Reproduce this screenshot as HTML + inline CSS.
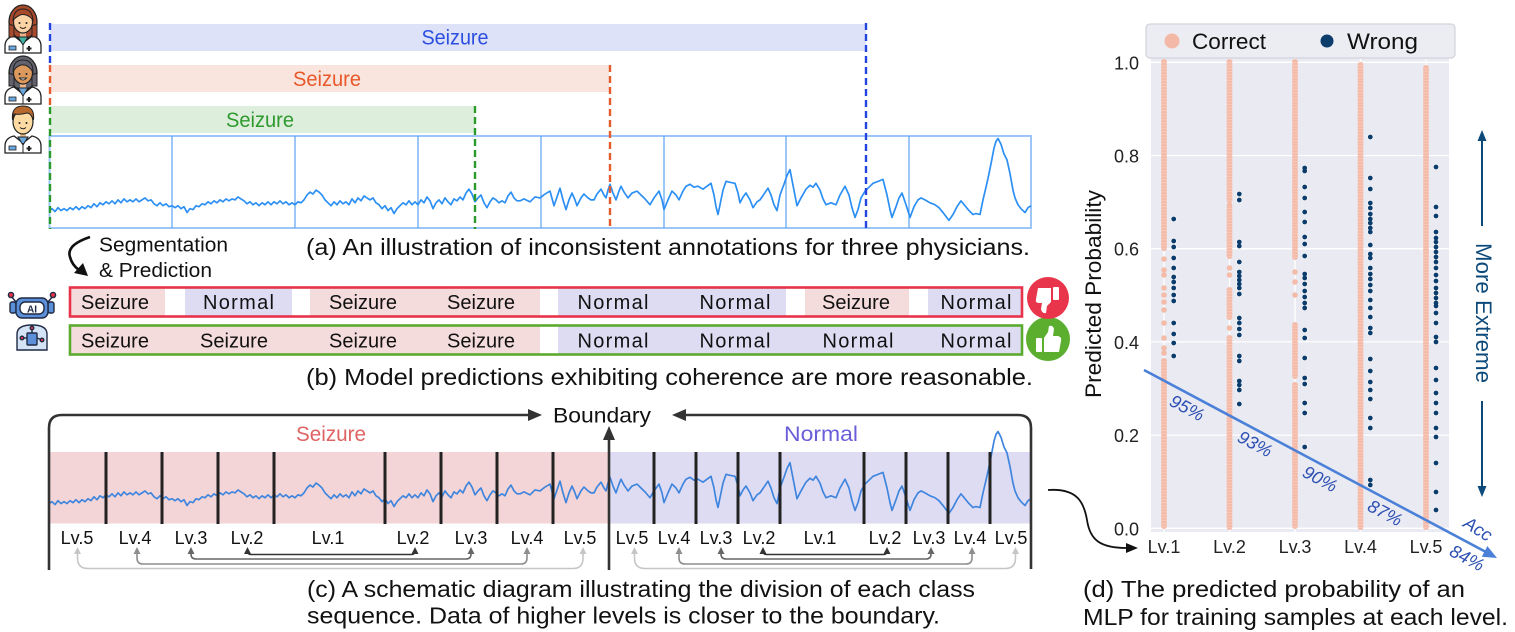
<!DOCTYPE html>
<html><head><meta charset="utf-8">
<style>
html,body{margin:0;padding:0;background:#fff;}
svg{display:block;}
text{font-family:"Liberation Sans",sans-serif;}
</style></head>
<body>
<svg width="1515" height="632" viewBox="0 0 1515 632" xmlns="http://www.w3.org/2000/svg">
<defs>
<path id="sig" fill="none" d="M49 216 52 214 55 217 58 213 61 216 64 214 67 216 70 213 73 215 76 212 79 215 82 212 85 214 88 211 91 213 94 209 97 212 100 208 103 210 106 207 109 209 112 206 115 209 118 205 121 208 124 204 127 207 130 205 133 207 136 204 139 207 142 205 145 203 148 206 151 205 154 209 157 211 160 208 163 211 166 209 169 212 172 211 175 213 178 211 181 214 184 212 187 218 190 214 193 215 196 211 199 212 202 209 205 210 208 207 211 209 214 206 217 208 220 205 223 207 226 204 229 206 232 204 235 205 238 202 241 204 244 206 247 209 250 207 253 210 256 208 259 211 262 208 265 210 268 207 271 210 274 207 277 209 280 206 283 209 286 207 289 210 292 208 295 210 298 207 301 208 304 205 307 200 310 197 313 199 316 195 319 197 322 200 325 205 328 208 331 211 334 207 337 210 340 206 343 209 346 207 349 210 352 204 355 208 358 203 361 206 364 201 367 203 370 205 373 203 376 208 379 210 382 214 385 211 388 216 391 213 394 219 397 214 400 211 403 208 406 210 409 206 412 210 415 207 418 210 421 205 424 208 427 202 430 206 433 214 436 208 439 205 442 209 445 203 448 207 451 210 454 204 457 206 460 202 463 205 466 198 469 194 472 199 475 207 478 203 481 200 484 208 487 213 490 207 493 203 496 205 499 208 502 206 505 208 508 201 511 197 514 203 517 206 520 206 524 204 530 207 535 202 540 203 545 199 550 196 554 211 557 202 560 193 563 205 566 215 569 205 572 198 575 205 577 211 581 203 584 199 588 203 591 205 594 205 597 199 601 194 604 200 606 203 608 195 610 189 613 198 616 205 619 196 621 191 624 197 628 203 632 198 637 196 641 200 645 204 650 210 654 203 659 196 662 205 664 215 668 205 672 196 676 200 679 205 683 196 686 191 690 189 694 192 698 191 703 194 707 191 711 188 714 200 716 212 718 220 720 210 723 195 726 186 730 187 735 188 738 198 740 208 743 202 746 198 750 205 753 213 757 207 760 205 764 199 768 193 771 200 774 210 777 216 780 200 784 189 787 180 790 174 793 190 797 211 801 203 806 194 810 190 813 192 816 188 820 195 823 204 826 210 831 208 836 210 840 200 845 191 849 200 852 213 855 223 858 215 861 203 865 196 869 192 873 188 878 186 883 184 887 200 890 215 892 223 896 212 899 203 902 198 906 210 910 223 914 212 918 205 921 203 925 205 930 208 935 210 939 213 943 218 946 222 949 226 953 220 957 212 961 206 965 211 969 216 973 220 976 219 980 220 983 205 986 192 988 183 991 168 994 152 996 145 998 142 1001 148 1004 158 1007 164 1010 178 1013 195 1015 203 1018 210 1021 214 1025 218 1028 213 1031 211"/>
<g id="doc">
  <ellipse cx="23" cy="22" rx="14" ry="17" fill="currentColor" stroke="#222" stroke-width="1.3"/>
  <rect x="20" y="30" width="6" height="8" fill="#e9b48a"/>
  <path d="M5,53 V46 Q5,38 14,36 L23,43 L32,36 Q41,38 41,46 V53 Z" fill="#fff" stroke="#222" stroke-width="1.3"/>
  <path d="M23,43 L14,36 M23,43 L32,36 M23,43 V53" stroke="#222" stroke-width="1" fill="none"/>
  <rect x="28" y="46" width="2" height="5" fill="#222"/><rect x="26.5" y="47.5" width="5" height="2" fill="#222"/>
  <rect x="9" y="46" width="7" height="4" fill="#6aa8e0" stroke="#222" stroke-width="0.8"/>
</g>
<path id="wrd" fill="none"
 d="M1173.7 219h0M1173.7 241h0M1173.7 247h0M1173.7 258h0M1173.7 268h0M1173.7 277h0M1173.7 282h0M1173.7 288h0M1173.7 295h0M1173.7 301h0M1173.7 323h0M1173.7 334h0M1173.7 343h0M1173.7 356h0
 M1239.3 194h0M1239.3 200h0M1239.3 242h0M1239.3 246h0M1239.3 262h0M1239.3 272h0M1239.3 276h0M1239.3 280h0M1239.3 284h0M1239.3 288h0M1239.3 294h0M1239.3 318h0M1239.3 323h0M1239.3 329h0M1239.3 335h0M1239.3 356h0M1239.3 361h0M1239.3 381h0M1239.3 385h0M1239.3 390h0M1239.3 404h0
 M1304.7 168h0M1304.7 171h0M1304.7 187h0M1304.7 198h0M1304.7 212h0M1304.7 222h0M1304.7 237h0M1304.7 244h0M1304.7 256h0M1304.7 274h0M1304.7 278h0M1304.7 284h0M1304.7 291h0M1304.7 297h0M1304.7 303h0M1304.7 308h0M1304.7 330h0M1304.7 338h0M1304.7 358h0M1304.7 378h0M1304.7 384h0M1304.7 403h0M1304.7 413h0M1304.7 447h0
 M1370.3 137h0M1370.3 178h0M1370.3 189h0M1370.3 203h0M1370.3 208h0M1370.3 214h0M1370.3 219h0M1370.3 223h0M1370.3 228h0M1370.3 232h0M1370.3 245h0M1370.3 254h0M1370.3 258h0M1370.3 268h0M1370.3 274h0M1370.3 279h0M1370.3 285h0M1370.3 291h0M1370.3 300h0M1370.3 308h0M1370.3 317h0M1370.3 328h0M1370.3 333h0M1370.3 359h0M1370.3 371h0M1370.3 382h0M1370.3 390h0M1370.3 399h0M1370.3 418h0M1370.3 428h0M1370.3 480h0M1370.3 485h0
 M1436 167h0M1436 207h0M1436 216h0M1436 232h0M1436 238h0M1436 242h0M1436 247h0M1436 252h0M1436 257h0M1436 262h0M1436 268h0M1436 275h0M1436 281h0M1436 288h0M1436 293h0M1436 298h0M1436 303h0M1436 306h0M1436 313h0M1436 323h0M1436 337h0M1436 342h0M1436 368h0M1436 380h0M1436 393h0M1436 403h0M1436 413h0M1436 428h0M1436 437h0M1436 463h0M1436 492h0M1436 510h0"/>
</defs>

<!-- ============ Panel (a) ============ -->
<g color="#a9492c">
  <use href="#doc"/>
  <path d="M18,37 L23,45 L28,37 Z" fill="#40b3a2" stroke="#222" stroke-width="1"/>
  <path d="M9,24 V37 H14 V26 Z M37,24 V37 H32 V26 Z" fill="#a9492c" stroke="#222" stroke-width="1"/>
  <ellipse cx="23" cy="22" rx="9.5" ry="11" fill="#fdd2a4" stroke="#222" stroke-width="1.2"/>
  <path d="M13,20 Q14,9 23,9 Q32,9 33,20 Q27,13 20,15 Q16,17 13,20Z" fill="#a9492c" stroke="#222" stroke-width="1"/>
  <circle cx="19.5" cy="23" r="1" fill="#222"/><circle cx="26.5" cy="23" r="1" fill="#222"/>
  <path d="M20,27 Q23,30 26,27" stroke="#222" stroke-width="1" fill="none"/>
</g>
<g transform="translate(0,51)" color="#62626f">
  <use href="#doc"/>
  <path d="M18,37 L23,45 L28,37 Z" fill="#6aa8e0" stroke="#222" stroke-width="1"/>
  <path d="M9,22 V35 H14 V24 Z M37,22 V35 H32 V24 Z" fill="#62626f" stroke="#222" stroke-width="1"/>
  <ellipse cx="23" cy="22" rx="9.5" ry="11" fill="#dc995d" stroke="#222" stroke-width="1.2"/>
  <path d="M13,21 Q13,9 23,9 Q33,9 33,21 Q28,13 21,14 Q15,16 13,21Z" fill="#62626f" stroke="#222" stroke-width="1"/>
  <circle cx="19.5" cy="23" r="1" fill="#222"/><circle cx="26.5" cy="23" r="1" fill="#222"/>
  <path d="M19.5,27 Q23,31 26.5,27 Z" fill="#fff" stroke="#222" stroke-width="0.9"/>
</g>
<g transform="translate(0,100)" color="#fddba3">
  <path d="M5,53 V46 Q5,38 14,36 L23,43 L32,36 Q41,38 41,46 V53 Z" fill="#fff" stroke="#222" stroke-width="1.3"/>
  <rect x="20" y="30" width="6" height="8" fill="#e9c08a"/>
  <path d="M18,37 L23,45 L28,37 Z" fill="#6aa8e0" stroke="#222" stroke-width="1"/>
  <path d="M23,43 V53" stroke="#222" stroke-width="1"/>
  <rect x="28" y="46" width="2" height="5" fill="#222"/><rect x="26.5" y="47.5" width="5" height="2" fill="#222"/>
  <rect x="9" y="46" width="7" height="4" fill="#6aa8e0" stroke="#222" stroke-width="0.8"/>
  <ellipse cx="23" cy="22" rx="10" ry="12" fill="#fddba3" stroke="#222" stroke-width="1.2"/>
  <path d="M12.5,20 Q11,6 23,6 Q35,6 33.5,20 Q31,13 27,13 Q20,15 14,14 Z" fill="#b7682c" stroke="#222" stroke-width="1"/>
  <circle cx="19.5" cy="23" r="1" fill="#222"/><circle cx="26.5" cy="23" r="1" fill="#222"/>
  <path d="M20,27.5 Q23,30 26,27.5" stroke="#222" stroke-width="1" fill="none"/>
</g>

<rect x="50" y="24" width="816" height="27" fill="#dde2f9"/>
<rect x="50" y="65" width="559" height="27" fill="#f9e5dd"/>
<rect x="50" y="106" width="425" height="27" fill="#deeedd"/>
<text x="455" y="44.5" font-size="21" fill="#2c4fe0" text-anchor="middle" textLength="67" lengthAdjust="spacingAndGlyphs">Seizure</text>
<text x="327" y="86" font-size="21" fill="#e8582a" text-anchor="middle" textLength="68" lengthAdjust="spacingAndGlyphs">Seizure</text>
<text x="260" y="127" font-size="21" fill="#2e9a2e" text-anchor="middle" textLength="68" lengthAdjust="spacingAndGlyphs">Seizure</text>

<rect x="49.5" y="136" width="981.5" height="92" fill="#fff" stroke="#9cc6f7" stroke-width="2"/>
<g stroke="#5aa2f2" stroke-width="1.2">
  <line x1="172" y1="136" x2="172" y2="228"/><line x1="295" y1="136" x2="295" y2="228"/>
  <line x1="418" y1="136" x2="418" y2="228"/><line x1="541" y1="136" x2="541" y2="228"/>
  <line x1="664" y1="136" x2="664" y2="228"/><line x1="786" y1="136" x2="786" y2="228"/>
  <line x1="909" y1="136" x2="909" y2="228"/>
</g>
<use href="#sig" transform="scale(1,0.975)" stroke="#2b8ff4" stroke-width="1.7" stroke-linejoin="round"/>

<g stroke-width="2.4" stroke-dasharray="7 4" fill="none">
  <line x1="50" y1="23" x2="50" y2="64" stroke="#2444e0"/>
  <line x1="50" y1="65" x2="50" y2="106" stroke="#e55b2b"/>
  <line x1="50" y1="107" x2="50" y2="229" stroke="#2a9a2a"/>
  <line x1="866" y1="23" x2="866" y2="229" stroke="#2444e0"/>
  <line x1="610" y1="65" x2="610" y2="229" stroke="#e55b2b"/>
  <line x1="475" y1="106" x2="475" y2="229" stroke="#2a9a2a"/>
</g>

<path d="M90,237 Q66,245 70,257 Q72,265 79,270" stroke="#111" stroke-width="2.6" fill="none"/>
<polygon points="88,276 74,273 83,263" fill="#111"/>
<text x="99" y="251.5" font-size="20" fill="#111" textLength="129" lengthAdjust="spacingAndGlyphs">Segmentation</text>
<text x="99" y="277" font-size="20" fill="#111" textLength="113" lengthAdjust="spacingAndGlyphs">&amp; Prediction</text>
<text x="306" y="255" font-size="23" fill="#111" textLength="724" lengthAdjust="spacingAndGlyphs">(a) An illustration of inconsistent annotations for three physicians.</text>

<!-- ============ Panel (b) ============ -->
<g stroke="#1f2a44" stroke-width="1.4">
  <line x1="11" y1="296" x2="16" y2="302"/><line x1="53" y1="296" x2="48" y2="302"/>
  <circle cx="11" cy="295" r="2.6" fill="#e8334a"/><circle cx="53" cy="295" r="2.6" fill="#e8334a"/>
  <rect x="10" y="302" width="6" height="11" rx="2" fill="#5b8fd8"/>
  <rect x="48" y="302" width="6" height="11" rx="2" fill="#5b8fd8"/>
  <rect x="16" y="298" width="32" height="20" rx="6" fill="#5b8fd8"/>
  <rect x="20" y="302" width="24" height="12" rx="5" fill="#fff"/>
  <path d="M17,350 V334 Q17,325 32,325 Q47,325 47,334 V350 Z" fill="#d4e3f6"/>
  <rect x="27" y="333" width="10" height="12" rx="1" fill="#5b8fd8"/>
  <line x1="32" y1="333" x2="32" y2="328"/><line x1="27" y1="338" x2="22" y2="338"/><line x1="37" y1="338" x2="42" y2="340"/>
  <circle cx="32" cy="328" r="1.8" fill="#e8334a"/><circle cx="22" cy="338" r="1.8" fill="#e8334a"/><circle cx="42" cy="340" r="1.8" fill="#e8334a"/>
</g>
<text x="32" y="312.5" font-size="10" font-weight="bold" fill="#1f2a44" text-anchor="middle">AI</text>

<rect x="71" y="288.5" width="94" height="27" fill="#f5dcdc"/>
<rect x="185" y="288.5" width="107" height="27" fill="#dedcf3"/>
<rect x="310" y="288.5" width="230" height="27" fill="#f5dcdc"/>
<rect x="558" y="288.5" width="228" height="27" fill="#dedcf3"/>
<rect x="805" y="288.5" width="104" height="27" fill="#f5dcdc"/>
<rect x="928" y="288.5" width="93" height="27" fill="#dedcf3"/>
<rect x="70" y="287.5" width="952" height="29" fill="none" stroke="#e8334a" stroke-width="2.6"/>
<rect x="71" y="326.5" width="469" height="27" fill="#f5dcdc"/>
<rect x="558" y="326.5" width="463" height="27" fill="#dedcf3"/>
<rect x="70" y="325.5" width="952" height="29" fill="none" stroke="#5aab2e" stroke-width="2.6"/>
<g font-size="20" fill="#111" text-anchor="middle" lengthAdjust="spacingAndGlyphs">
  <text x="115" y="309" textLength="68">Seizure</text>
  <text x="238.5" y="309" textLength="71">Normal</text>
  <text x="363" y="309" textLength="68">Seizure</text>
  <text x="481" y="309" textLength="68">Seizure</text>
  <text x="613" y="309" textLength="71">Normal</text>
  <text x="735" y="309" textLength="71">Normal</text>
  <text x="856" y="309" textLength="68">Seizure</text>
  <text x="976" y="309" textLength="71">Normal</text>
  <text x="115" y="347.5" textLength="68">Seizure</text>
  <text x="234" y="347.5" textLength="68">Seizure</text>
  <text x="363" y="347.5" textLength="68">Seizure</text>
  <text x="481" y="347.5" textLength="68">Seizure</text>
  <text x="613" y="347.5" textLength="71">Normal</text>
  <text x="735" y="347.5" textLength="71">Normal</text>
  <text x="858" y="347.5" textLength="71">Normal</text>
  <text x="976" y="347.5" textLength="71">Normal</text>
</g>
<circle cx="1048" cy="339" r="22" fill="#5cae2f"/>
<circle cx="1048" cy="298" r="21" fill="#e8354b"/>
<g fill="#fff">
  <rect x="1053" y="287" width="6" height="13" rx="1"/>
  <path d="M1038,288 H1051 V302 L1047,306 L1046,313 Q1042,314 1041,309 L1042,303 H1039 Q1035,303 1036,299 Z"/>
  <rect x="1036" y="338" width="6" height="14" rx="1"/>
  <path d="M1044,338 L1048,332 L1049,326 Q1053,325 1054,329 L1053,336 H1058 Q1062,337 1061,341 L1059,352 H1044 Z"/>
</g>
<text x="306" y="385" font-size="23" fill="#111" textLength="727" lengthAdjust="spacingAndGlyphs">(b) Model predictions exhibiting coherence are more reasonable.</text>

<!-- ============ Panel (c) ============ -->
<rect x="50" y="452" width="559" height="71.5" fill="#f3d5d7"/>
<rect x="609" y="452" width="421" height="71.5" fill="#dedcf3"/>
<use href="#sig" transform="translate(0,293) scale(1,0.975)" stroke="#3f85de" stroke-width="1.7" stroke-linejoin="round"/>
<g stroke="#222" stroke-width="3">
  <line x1="106" y1="452" x2="106" y2="524"/><line x1="162" y1="452" x2="162" y2="524"/>
  <line x1="218" y1="452" x2="218" y2="524"/><line x1="274" y1="452" x2="274" y2="524"/>
  <line x1="385" y1="452" x2="385" y2="524"/><line x1="441" y1="452" x2="441" y2="524"/>
  <line x1="497" y1="452" x2="497" y2="524"/><line x1="553" y1="452" x2="553" y2="524"/>
  <line x1="654" y1="452" x2="654" y2="524"/><line x1="696" y1="452" x2="696" y2="524"/>
  <line x1="738" y1="452" x2="738" y2="524"/><line x1="780" y1="452" x2="780" y2="524"/>
  <line x1="864" y1="452" x2="864" y2="524"/><line x1="906" y1="452" x2="906" y2="524"/>
  <line x1="948" y1="452" x2="948" y2="524"/><line x1="990" y1="452" x2="990" y2="524"/>
</g>
<text x="331" y="441" font-size="21" fill="#de6464" text-anchor="middle" textLength="70" lengthAdjust="spacingAndGlyphs">Seizure</text>
<text x="821" y="441" font-size="21" fill="#6a5fd8" text-anchor="middle" textLength="74" lengthAdjust="spacingAndGlyphs">Normal</text>
<text x="553" y="422.5" font-size="21" fill="#111" textLength="98" lengthAdjust="spacingAndGlyphs">Boundary</text>
<g stroke="#333" stroke-width="2.6" fill="none">
  <path d="M49,570 V428 Q49,415 62,415 H530"/>
  <path d="M1031,569 V428 Q1031,415 1018,415 H686"/>
  <path d="M609,570 V438"/>
</g>
<g fill="#333">
  <polygon points="542,415 528,409 528,421"/>
  <polygon points="672,415 686,409 686,421"/>
  <polygon points="609,426 603,440 615,440"/>
</g>
<g font-size="18" fill="#111" text-anchor="middle">
  <text x="77" y="544">Lv.5</text><text x="135" y="544">Lv.4</text><text x="191" y="544">Lv.3</text>
  <text x="247" y="544">Lv.2</text><text x="328" y="544">Lv.1</text><text x="413" y="544">Lv.2</text>
  <text x="471" y="544">Lv.3</text><text x="527" y="544">Lv.4</text><text x="580" y="544">Lv.5</text>
  <text x="632" y="544">Lv.5</text><text x="674" y="544">Lv.4</text><text x="716" y="544">Lv.3</text>
  <text x="759" y="544">Lv.2</text><text x="820" y="544">Lv.1</text><text x="885" y="544">Lv.2</text>
  <text x="929" y="544">Lv.3</text><text x="970" y="544">Lv.4</text><text x="1011" y="544">Lv.5</text>
</g>
<g fill="none" stroke-width="1.6">
  <path d="M77.5,551 V558 Q77.5,568.5 88,568.5 H573 Q583,568.5 583,558 V551" stroke="#c6c6c6"/>
  <path d="M137,551 V558 Q137,564 143,564 H521 Q527,564 527,558 V551" stroke="#8e8e8e"/>
  <path d="M191,551 V554 Q191,559 196,559 H466 Q471,559 471,554 V551" stroke="#666"/>
  <path d="M247.5,551 V551 Q247.5,554.5 251,554.5 H411.5 Q415,554.5 415,551" stroke="#333"/>
  <path d="M634.5,551 V558 Q634.5,568.5 645,568.5 H1005 Q1015.5,568.5 1015.5,558 V551" stroke="#c6c6c6"/>
  <path d="M679,551 V558 Q679,564 685,564 H966 Q972,564 972,558 V551" stroke="#8e8e8e"/>
  <path d="M721,551 V554 Q721,559 726,559 H926 Q931,559 931,554 V551" stroke="#666"/>
  <path d="M763,551 V551 Q763,554.5 766.5,554.5 H883.5 Q887,554.5 887,551" stroke="#333"/>
</g>
<g>
  <polygon points="77.5,547 74,554 81,554" fill="#c6c6c6"/><polygon points="583,547 579.5,554 586.5,554" fill="#c6c6c6"/>
  <polygon points="137,547 133.5,554 140.5,554" fill="#8e8e8e"/><polygon points="527,547 523.5,554 530.5,554" fill="#8e8e8e"/>
  <polygon points="191,547 187.5,554 194.5,554" fill="#666"/><polygon points="471,547 467.5,554 474.5,554" fill="#666"/>
  <polygon points="247.5,547 244,554 251,554" fill="#333"/><polygon points="415,547 411.5,554 418.5,554" fill="#333"/>
  <polygon points="634.5,547 631,554 638,554" fill="#c6c6c6"/><polygon points="1015.5,547 1012,554 1019,554" fill="#c6c6c6"/>
  <polygon points="679,547 675.5,554 682.5,554" fill="#8e8e8e"/><polygon points="972,547 968.5,554 975.5,554" fill="#8e8e8e"/>
  <polygon points="721,547 717.5,554 724.5,554" fill="#666"/><polygon points="931,547 927.5,554 934.5,554" fill="#666"/>
  <polygon points="763,547 759.5,554 766.5,554" fill="#333"/><polygon points="887,547 883.5,554 890.5,554" fill="#333"/>
</g>
<text x="307" y="597" font-size="23" fill="#111" textLength="668" lengthAdjust="spacingAndGlyphs">(c) A schematic diagram illustrating the division of each class</text>
<text x="307" y="623.5" font-size="23" fill="#111" textLength="633" lengthAdjust="spacingAndGlyphs">sequence. Data of higher levels is closer to the boundary.</text>

<path d="M1048,490 C1078,488 1084,503 1087,520 C1090,540 1100,548 1127,548" stroke="#111" stroke-width="1.8" fill="none"/>
<polygon points="1138,548 1126,543 1126,553" fill="#111"/>

<!-- ============ Panel (d) ============ -->
<rect x="1151" y="58.6" width="298" height="473.4" fill="#eaeaf2"/>
<g stroke="#fff" stroke-width="1.3">
  <line x1="1151" y1="62.3" x2="1449" y2="62.3"/><line x1="1151" y1="155.5" x2="1449" y2="155.5"/>
  <line x1="1151" y1="248.7" x2="1449" y2="248.7"/><line x1="1151" y1="341.9" x2="1449" y2="341.9"/>
  <line x1="1151" y1="435.1" x2="1449" y2="435.1"/><line x1="1151" y1="528.3" x2="1449" y2="528.3"/>
  <line x1="1164" y1="58.6" x2="1164" y2="532"/><line x1="1229.5" y1="58.6" x2="1229.5" y2="532"/>
  <line x1="1295" y1="58.6" x2="1295" y2="532"/><line x1="1360.5" y1="58.6" x2="1360.5" y2="532"/>
  <line x1="1426" y1="58.6" x2="1426" y2="532"/>
</g>
<path fill="none" stroke="#f4bba9" stroke-width="6" stroke-linecap="round" stroke-dasharray="0 3"
 d="M1164 62V250M1164 361V528M1229.5 62V202M1229.5 208V258M1229.5 290V318M1229.5 338V528M1295 62V258M1295 325V378M1295 385V528M1360.5 65V528M1426 68V528"/>
<path fill="none" stroke="#fff" stroke-width="6" stroke-dasharray="0.5 2.5" opacity="0.35"
 d="M1164 62V250M1164 361V528M1229.5 62V202M1229.5 208V258M1229.5 290V318M1229.5 338V528M1295 62V258M1295 325V378M1295 385V528M1360.5 65V528M1426 68V528"/>
<path fill="none" stroke="#f4bba9" stroke-width="5.6" stroke-linecap="round"
 d="M1164 259h0M1164 270h0M1164 275h0M1164 288h0M1164 295h0M1164 302h0M1164 310h0M1164 323h0M1164 338h0M1164 348h0M1164 353h0M1229.5 205h0M1229.5 268h0M1229.5 275h0M1229.5 328h0M1295 272h0M1295 282h0M1295 295h0"/>
<use href="#wrd" stroke="#ffffff" stroke-width="6" stroke-linecap="round"/>
<use href="#wrd" stroke="#0c3c6c" stroke-width="4.8" stroke-linecap="round"/>

<rect x="1146" y="24" width="309" height="34" rx="4" fill="#ececf3" stroke="#d2d2da" stroke-width="1.2"/>
<circle cx="1172" cy="41" r="7.5" fill="#f4b8a6"/>
<text x="1192" y="49" font-size="22" fill="#111" textLength="74" lengthAdjust="spacingAndGlyphs">Correct</text>
<circle cx="1327" cy="41" r="6.5" fill="#0c3c6c"/>
<text x="1347" y="49" font-size="22" fill="#111" textLength="71" lengthAdjust="spacingAndGlyphs">Wrong</text>

<g font-size="18" fill="#222" text-anchor="end">
  <text x="1139" y="69.5">1.0</text><text x="1139" y="162.5">0.8</text><text x="1139" y="255.7">0.6</text>
  <text x="1139" y="348.9">0.4</text><text x="1139" y="442.1">0.2</text><text x="1139" y="535.3">0.0</text>
</g>
<g font-size="18" fill="#222" text-anchor="middle">
  <text x="1164" y="553">Lv.1</text><text x="1229.5" y="553">Lv.2</text><text x="1295" y="553">Lv.3</text>
  <text x="1360.5" y="553">Lv.4</text><text x="1426" y="553">Lv.5</text>
</g>
<text transform="translate(1101,294) rotate(-90)" font-size="22" fill="#111" text-anchor="middle" textLength="208" lengthAdjust="spacingAndGlyphs">Predicted Probability</text>

<text transform="translate(1476,313) rotate(90)" font-size="22" fill="#0d4a7a" text-anchor="middle" textLength="140" lengthAdjust="spacingAndGlyphs">More Extreme</text>
<g stroke="#0d4a7a" stroke-width="2">
  <line x1="1482" y1="226" x2="1482" y2="140"/><line x1="1482" y1="401" x2="1482" y2="487"/>
</g>
<polygon points="1482,130 1477.5,141 1486.5,141" fill="#0d4a7a"/>
<polygon points="1482,497 1477.5,486 1486.5,486" fill="#0d4a7a"/>

<line x1="1144" y1="370" x2="1485" y2="551.5" stroke="#4a80d8" stroke-width="2.6"/>
<polygon points="1497,558 1481.8,556.7 1487.4,546.1" fill="#4a80d8"/>
<g font-size="18" font-style="italic" fill="#2b4fb3" text-anchor="middle">
  <text transform="translate(1187,408) rotate(28)" y="6">95%</text>
  <text transform="translate(1255,444) rotate(28)" y="6">93%</text>
  <text transform="translate(1320,479) rotate(28)" y="6">90%</text>
  <text transform="translate(1385,513) rotate(28)" y="6">87%</text>
  <text transform="translate(1478,529) rotate(32)" y="6">Acc</text>
  <text transform="translate(1467,558) rotate(28)" y="6">84%</text>
</g>

<text x="1083" y="597" font-size="23" fill="#111" textLength="382" lengthAdjust="spacingAndGlyphs">(d) The predicted probability of an</text>
<text x="1083" y="625" font-size="23" fill="#111" textLength="425" lengthAdjust="spacingAndGlyphs">MLP for training samples at each level.</text>
</svg>
</body></html>
